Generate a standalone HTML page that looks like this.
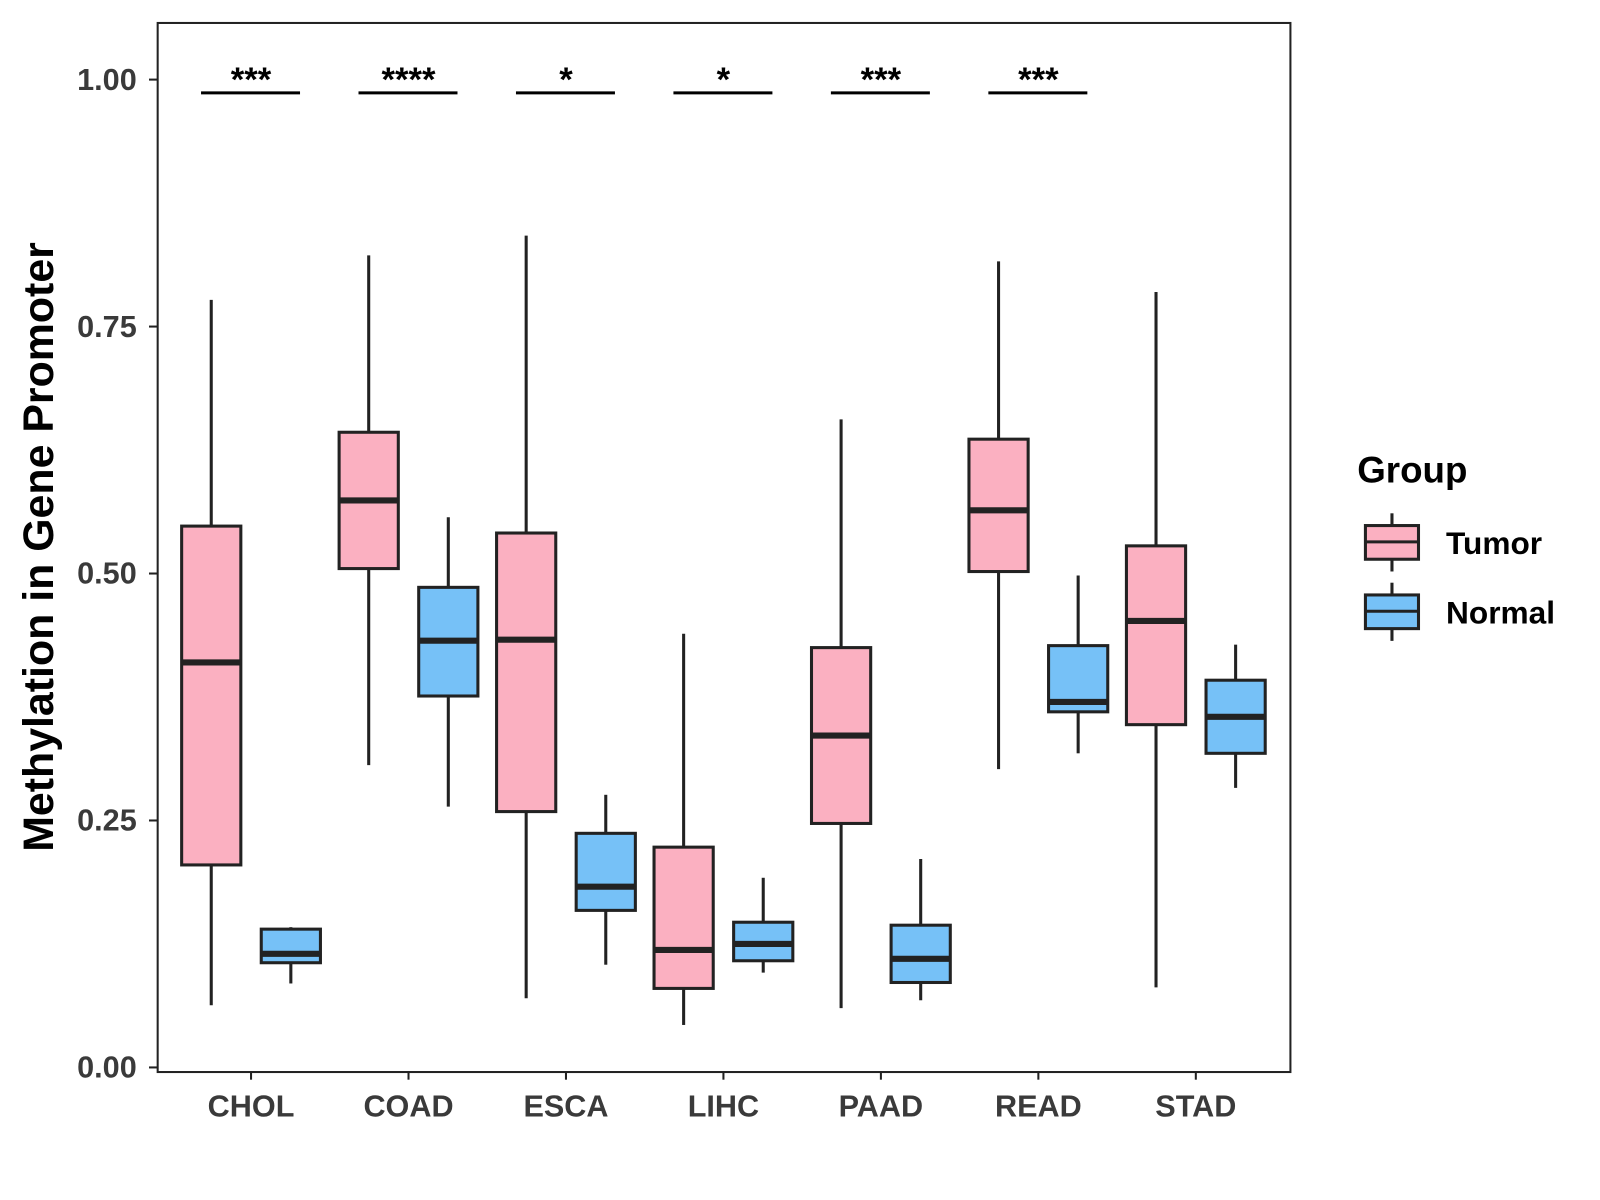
<!DOCTYPE html>
<html><head><meta charset="utf-8">
<style>
html,body{margin:0;padding:0;background:#fff;}
svg{display:block;font-family:"Liberation Sans",Arial,sans-serif;}
</style></head>
<body>
<svg id="chart" width="1600" height="1200" viewBox="0 0 1600 1200">
  <rect x="0" y="0" width="1600" height="1200" fill="#fff"/>
  <g transform="scale(1.0205)">
  <g id="marks"></g>
  <rect x="154.5" y="22.5" width="1110" height="1028" fill="none" stroke="#222" stroke-width="2"/>
  <g id="axes"></g>
  <text transform="translate(52,536) rotate(-90)" text-anchor="middle" font-size="42" font-weight="bold" fill="#000">Methylation in Gene Promoter</text>
  <g>
    <text x="1330" y="473" font-size="36" font-weight="bold">Group</text>
    <g>
      <line x1="1364" y1="503" x2="1364" y2="560" stroke="#222" stroke-width="3"/>
      <rect x="1338" y="515" width="52" height="33" fill="#fbb0c1" stroke="#222" stroke-width="3"/>
      <line x1="1338" y1="531" x2="1390" y2="531" stroke="#222" stroke-width="3"/>
      <text x="1417" y="543" font-size="31" font-weight="bold">Tumor</text>
    </g>
    <g>
      <line x1="1364" y1="571" x2="1364" y2="628" stroke="#222" stroke-width="3"/>
      <rect x="1338" y="583" width="52" height="33" fill="#76c1f7" stroke="#222" stroke-width="3"/>
      <line x1="1338" y1="599" x2="1390" y2="599" stroke="#222" stroke-width="3"/>
      <text x="1417" y="611" font-size="31" font-weight="bold">Normal</text>
    </g>
  </g>
  </g>
</svg>
<script>
const categories = ["CHOL","COAD","ESCA","LIHC","PAAD","READ","STAD"];
const tumorMin = [0.063,0.306,0.070,0.043,0.060,0.302,0.081];
const tumorQ1  = [0.205,0.505,0.259,0.080,0.247,0.502,0.347];
const tumorMed = [0.410,0.574,0.433,0.119,0.336,0.564,0.452];
const tumorQ3  = [0.548,0.643,0.541,0.223,0.425,0.636,0.528];
const tumorMax = [0.777,0.822,0.842,0.439,0.656,0.816,0.785];
const normalMin = [0.085,0.264,0.104,0.096,0.068,0.318,0.283];
const normalQ1  = [0.106,0.376,0.159,0.108,0.086,0.360,0.318];
const normalMed = [0.115,0.432,0.183,0.125,0.110,0.370,0.355];
const normalQ3  = [0.140,0.486,0.237,0.147,0.144,0.427,0.392];
const normalMax = [0.142,0.557,0.276,0.192,0.211,0.498,0.428];
const signif = ["***","****","*","*","***","***",""];
const yTicks = [0,0.25,0.5,0.75,1.0];
const yTickLabels = ["0.00","0.25","0.50","0.75","1.00"];

const NS="http://www.w3.org/2000/svg";
const y = v => 1046 - 968*v;
const x = i => 246 + i*154.3;
const marks=document.getElementById('marks'), axes=document.getElementById('axes');
function mk(tag,attrs,parent){const e=document.createElementNS(NS,tag);for(const k in attrs)e.setAttribute(k,attrs[k]);parent.appendChild(e);return e;}

function box(cx,mn,q1,md,q3,mx,fill,name){
  const g=mk('g',{},marks);
  
  
  mk('line',{x1:cx,x2:cx,y1:y(mx),y2:y(q3),stroke:'#222','stroke-width':3},g);
  mk('line',{x1:cx,x2:cx,y1:y(q1),y2:y(mn),stroke:'#222','stroke-width':3},g);
  mk('rect',{x:cx-29,y:y(q3),width:58,height:y(q1)-y(q3),fill:fill,stroke:'#222','stroke-width':3},g);
  mk('line',{x1:cx-29,x2:cx+29,y1:y(md),y2:y(md),stroke:'#222','stroke-width':6},g);
}
categories.forEach((c,i)=>{
  box(x(i)-39,tumorMin[i],tumorQ1[i],tumorMed[i],tumorQ3[i],tumorMax[i],'#fbb0c1','box-tumor-'+c.toLowerCase());
  box(x(i)+39,normalMin[i],normalQ1[i],normalMed[i],normalQ3[i],normalMax[i],'#76c1f7','box-normal-'+c.toLowerCase());
  if(signif[i]){
    const g=mk('g',{},marks);
    
    
    mk('line',{x1:x(i)-49,x2:x(i)+48,y1:91,y2:91,stroke:'#000','stroke-width':3},g);
    const t=mk('text',{x:x(i),y:89,'text-anchor':'middle','font-size':34,'font-weight':'bold'},g);
    t.textContent=signif[i];
  }
  mk('line',{x1:x(i),x2:x(i),y1:1050,y2:1058,stroke:'#222','stroke-width':2},axes);
  const t=mk('text',{x:x(i),y:1094,'text-anchor':'middle','font-size':30,'font-weight':'bold',fill:'#3a3a3a'},axes);
  
  
  t.textContent=c;
});
yTicks.forEach((v,i)=>{
  mk('line',{x1:146,x2:154,y1:y(v),y2:y(v),stroke:'#222','stroke-width':2},axes);
  const t=mk('text',{x:134,y:y(v)+10,'text-anchor':'end','font-size':30,'font-weight':'bold',fill:'#3a3a3a'},axes);
  
  
  t.textContent=yTickLabels[i];
});
</script>
</body></html>
